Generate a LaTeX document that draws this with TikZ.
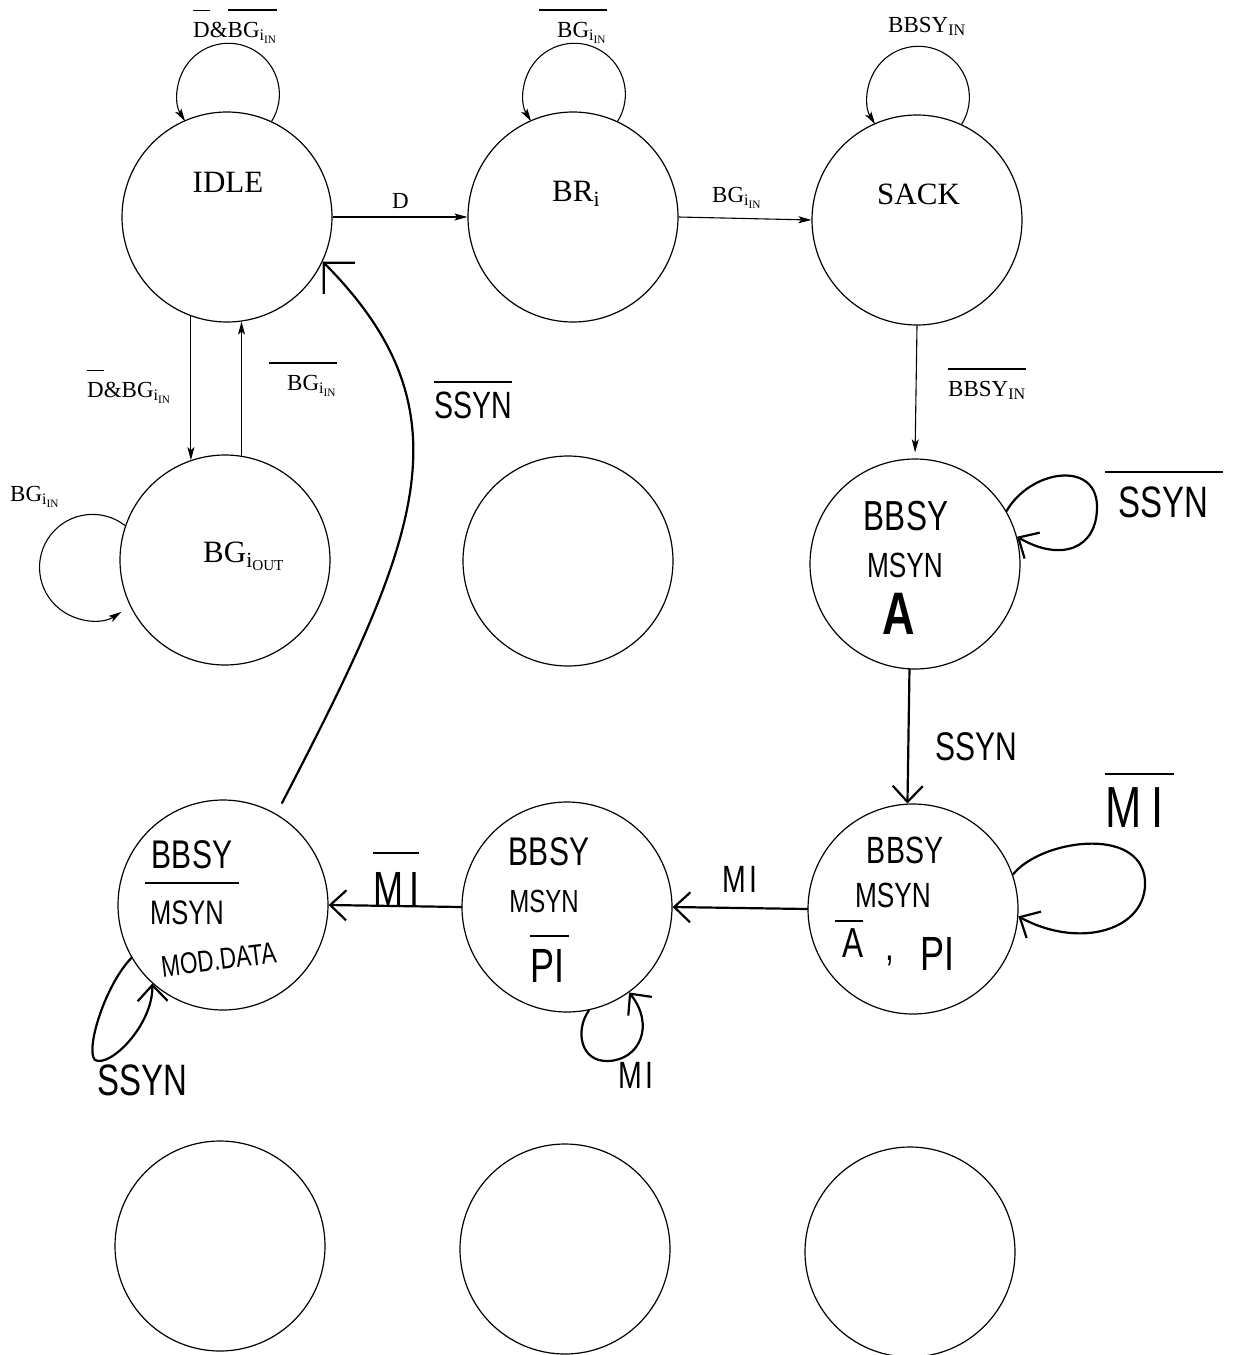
\documentclass[tikz,border=0pt]{standalone}
\usepackage{fontspec}
\setmainfont{Liberation Serif}
\newfontfamily\handfont[FakeStretch=0.75]{Liberation Sans}
\usetikzlibrary{arrows.meta,calc}
\newcommand\fs[1]{\fontsize{#1}{#1}\selectfont}
% typed overline: #1 left extension, #2 text
\newcommand\tovl[2]{\sbox0{#2}\hskip-#1\rlap{\rule[\dimexpr\ht0+11pt\relax]{\dimexpr\wd0+#1\relax}{1.3pt}}\hskip#1\usebox0}
% hand overline: #1 left ext, #2 right ext, #3 gap, #4 text
\newcommand\hovl[4]{\sbox0{#4}\hskip-#1\rlap{\rule[\dimexpr\ht0+#3\relax]{\dimexpr\wd0+#1+#2\relax}{2.2pt}}\hskip#1\usebox0}
\newcommand\BGin{BG\textsubscript{i\textsubscript{IN}}}
\tikzset{
  state/.style={circle, draw, line width=1.2pt, minimum size=210pt, inner sep=0pt},
  tlbl/.style={inner sep=0pt, font={\fs{23}}},
  stxt/.style={inner sep=0pt, font={\fs{31}}},
  htxt/.style={inner sep=0pt},
  tarrow/.style={line width=1.1pt, -{Stealth[length=13pt,width=7pt,inset=3pt]}},
  harrow/.style={line width=2.2pt, line cap=round, -{Straight Barb[length=16pt,width=30pt]}},
  bigbarb/.style={line width=2.2pt, line cap=round, -{Straight Barb[length=22pt,width=44pt]}},
}
\begin{document}
\begin{tikzpicture}[x=1pt,y=-1pt]
\useasboundingbox (0,0) rectangle (1246,1355);
% states
\node[state] (idle)  at (227,217) {};
\node[state] (br)    at (573,217) {};
\node[state] (sack)  at (917,220) {};
\node[state] (bgout) at (225,560) {};
\node[state] (blank) at (568,561) {};
\node[state] (bbsyA) at (915,564) {};
\node[state] (c31)   at (223,905) {};
\node[state] (c32)   at (567,907) {};
\node[state] (c33)   at (913,909) {};
\node[state] (c41)   at (220,1246) {};
\node[state] (c42)   at (565,1249) {};
\node[state] (c43)   at (910,1252) {};
% state texts (typed)
\node[stxt, anchor=base] (idlet) at (228,192) {IDLE};
\node[stxt, anchor=base west] (brt) at (552,201) {BR\textsubscript{i}};
\node[stxt, anchor=base west] (sackt) at (877,204) {SACK};
\node[stxt, anchor=base west] (bgt) at (203,562) {BG\textsubscript{i\textsubscript{OUT}}};
% typed labels
\node[tlbl, anchor=base west] (l1) at (193,37) {\tovl{0pt}{D}\&\tovl{0pt}{\BGin}};
\node[tlbl, anchor=base west] (l2) at (557,37) {\tovl{18pt}{\BGin}};
\node[tlbl, anchor=base west] (l3) at (888,32) {BBSY\textsubscript{IN}};
\node[tlbl, anchor=base west] (l4) at (392,208) {D};
\node[tlbl, anchor=base west] (l5) at (712,202) {\BGin};
\node[tlbl, anchor=base west] (l6) at (87,397) {\tovl{0pt}{D}\&\BGin};
\node[tlbl, anchor=base west] (l7) at (287,390) {\tovl{18pt}{\BGin}};
\node[tlbl, anchor=base west] (l8) at (948,396) {\tovl{0pt}{BBSY\textsubscript{IN}}};
\node[tlbl, anchor=base west] (l9) at (10,501) {\BGin};
% typed connectors
\draw[tarrow] (idle.65) arc[start angle=-32, end angle=212, radius=51pt];
\draw[tarrow] (br.65) arc[start angle=-32, end angle=212, radius=51pt];
\draw[tarrow] (sack.65) arc[start angle=-32, end angle=212, radius=51pt];
\draw[tarrow] (bgout.161) arc[start angle=52, end angle=303, radius=53pt];
\draw[tarrow] (idle.east) -- (br.west);
\draw[tarrow] (br.east) -- (sack.west);
\draw[tarrow] (idle.-110) -- (idle.-110 |- bgout.109);
\draw[tarrow] (bgout.81) -- (bgout.81 |- idle.-82);
\draw[tarrow, shorten >=6pt] (sack.south) -- (bbsyA.north);
% hand-written state contents
\node[htxt, anchor=base, font={\handfont\fs{42}}] (a1) at (906,530) {BBSY};
\node[htxt, anchor=base, font={\handfont\fs{35}}] (a2) at (905,577) {MSYN};
\node[htxt, anchor=base, font={\handfont\bfseries\fs{60}}] (a3) at (899,634) {A};
\node[htxt, anchor=base, font={\handfont\fs{38}}] (b1) at (905,863) {BBSY};
\node[htxt, anchor=base, font={\handfont\fs{35}}] (b2) at (893,907) {MSYN};
\node[htxt, anchor=base west, font={\handfont\fs{42}}] (b3) at (842,957) {\hovl{7pt}{0pt}{6pt}{A}};
\node[htxt, anchor=base, font={\handfont\fs{42}}] (b4) at (890,960) {,};
\node[htxt, anchor=base west, font={\handfont\fs{48}}] (b5) at (920,970) {PI};
\node[htxt, anchor=base, font={\handfont\fs{40}}] (m1) at (549,865) {BBSY};
\node[htxt, anchor=base, font={\handfont\fs{32}}] (m2) at (544,912) {MSYN};
\node[htxt, anchor=base west, font={\handfont\fs{48}}] (m3) at (530,982) {\hovl{0pt}{5pt}{12pt}{PI}};
\node[htxt, anchor=base, font={\handfont\fs{40}}] (e1) at (192,868) {BBSY};
\node[htxt, anchor=base west, font={\handfont\fs{34}}] (e2) at (150,924) {\hovl{5pt}{15pt}{16pt}{MSYN}};
\node[htxt, anchor=base, rotate=7, font={\handfont\fs{30}}] (e3) at (220,970) {MOD.DATA};
% hand-written connectors
\draw[bigbarb] ($(c31)+(59,-102)$) .. controls ($(c31)+(196,-366)$) and ($(idle)+(246,196)$) .. (idle.-25);
\draw[harrow] (bbsyA.30) .. controls ($(bbsyA)+(115,-94)$) and ($(bbsyA)+(180,-104)$) .. ($(bbsyA)+(182,-59)$)
   .. controls ($(bbsyA)+(183,-14)$) and ($(bbsyA)+(145,-2)$) .. (bbsyA.15);
\draw[harrow] (bbsyA.-93) -- (c33.93);
\draw[harrow] (c33.19) .. controls ($(c33)+(127,-69)$) and ($(c33)+(227,-84)$) .. ($(c33)+(232,-29)$)
   .. controls ($(c33)+(235,21)$) and ($(c33)+(167,41)$) .. (c33.-4);
\draw[harrow] (c33.west) -- (c32.east);
\draw[harrow] (c32.west) -- (c31.east);
\draw[harrow] (c32.-78) .. controls ($(c32)+(8,123)$) and ($(c32)+(13,155)$) .. ($(c32)+(41,154)$)
   .. controls ($(c32)+(73,153)$) and ($(c32)+(88,118)$) .. (c32.-54);
\draw[harrow] (c31.210) .. controls ($(c31)+(-118,80)$) and ($(c31)+(-138,145)$) .. ($(c31)+(-128,155)$)
   .. controls ($(c31)+(-113,163)$) and ($(c31)+(-70,120)$) .. (c31.228);
% hand-written labels
\node[htxt, anchor=base west, font={\handfont\fs{38}}] (h1) at (434,418) {\hovl{0pt}{0pt}{8pt}{SSYN}};
\node[htxt, anchor=base west, font={\handfont\fs{44}}] (h2) at (1118,517) {\hovl{13pt}{15pt}{13pt}{SSYN}};
\node[htxt, anchor=base west, font={\handfont\fs{40}}] (h3) at (935,760) {SSYN};
\node[htxt, anchor=base west, font={\handfont\fs{58}}] (h4) at (1105,827) {\hovl{0pt}{10pt}{12pt}{M\hspace{10pt}I}};
\node[htxt, anchor=base west, font={\handfont\fs{38}}] (h5) at (722,892) {M\hspace{4pt}I};
\node[htxt, anchor=base west, font={\handfont\fs{38}}] (h6) at (618,1088) {M\hspace{4pt}I};
\node[htxt, anchor=base west, font={\handfont\fs{48}}] (h7) at (373,905) {\hovl{0pt}{0pt}{18pt}{M\hspace{6pt}I}};
\node[htxt, anchor=base west, font={\handfont\fs{44}}] (h8) at (97,1095) {SSYN};
\end{tikzpicture}
\end{document}
